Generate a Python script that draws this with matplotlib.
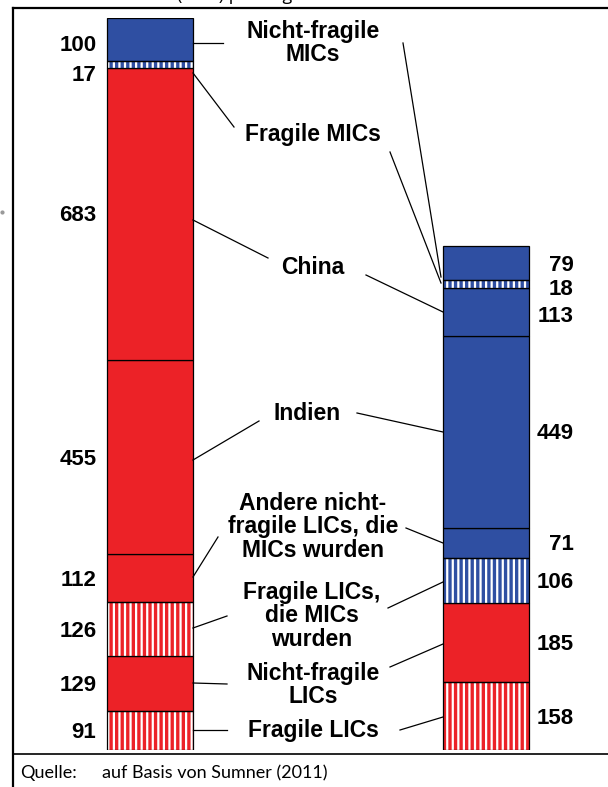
import matplotlib
matplotlib.use("Agg")
import matplotlib.pyplot as plt

# ---------------- data (segments listed bottom-up) ----------------
segment_labels = ["Fragile LICs", "Nicht-fragile\nLICs", "Fragile LICs,\ndie MICs\nwurden",
                  "Andere nicht-\nfragile LICs, die\nMICs wurden", "Indien", "China",
                  "Fragile MICs", "Nicht-fragile\nMICs"]
left_values = [91, 129, 126, 112, 455, 683, 17, 100]
right_values = [158, 185, 106, 71, 449, 113, 18, 79]
left_colors = ["red", "red", "red", "red", "red", "red", "blue", "blue"]
right_colors = ["red", "red", "blue", "blue", "blue", "blue", "blue", "blue"]
hatched = [True, False, True, False, False, False, True, False]
source_label = "Quelle:"
source_text = "auf Basis von Sumner (2011)"

PALETTE = {"red": "#EC2227", "blue": "#2F4FA2"}
FONT = "Liberation Sans"

W, H = 608, 787
fig = plt.figure(figsize=(W / 100, H / 100), dpi=100)
fig.patch.set_facecolor("white")
plt.rcParams["hatch.linewidth"] = 1.6

# bar axes: value 0 at pixel y=750, left-bar total at pixel y=18
total_left = sum(left_values)
ax = fig.add_axes([0, (H - 750) / H, 1, (750 - 18) / H])
px_per_x = 336.0
ax.set_xlim(-149.5 / px_per_x, (W - 149.5) / px_per_x)
ax.set_ylim(0, total_left)
ax.axis("off")
bar_w = 86 / px_per_x

def draw_bar(xpos, values, colors):
    bottom = 0
    for v, c, h in zip(values, colors, hatched):
        if h:
            ax.bar(xpos, v, bottom=bottom, width=bar_w, color=PALETTE[c],
                   edgecolor="white", hatch="|||", linewidth=0, zorder=2)
            ax.bar(xpos, v, bottom=bottom, width=bar_w, fill=False,
                   edgecolor="black", linewidth=0.9, zorder=3)
        else:
            ax.bar(xpos, v, bottom=bottom, width=bar_w, color=PALETTE[c],
                   edgecolor="black", linewidth=0.9, zorder=2)
        bottom += v

draw_bar(0, left_values, left_colors)
draw_bar(1, right_values, right_colors)

# value labels
num_kw = dict(fontsize=16, fontweight="bold", family=FONT, textcoords="offset pixels")
left_dy = {6: -9, 7: -4}
right_dy = {6: -4, 5: -3}
b = 0
for i, v in enumerate(left_values):
    ax.annotate(str(v), xy=(-bar_w / 2, b + v / 2), xytext=(-10, -2 + left_dy.get(i, 0)),
                ha="right", va="center", **num_kw)
    b += v
b = 0
for i, v in enumerate(right_values):
    ax.annotate(str(v), xy=(1 + bar_w / 2, b + v / 2), xytext=(45, -2 + right_dy.get(i, 0)),
                ha="right", va="center", **num_kw)
    b += v

# overlay axes in pixel coordinates for frame, labels and leader lines
ov = fig.add_axes([0, 0, 1, 1], zorder=5)
ov.set_xlim(0, W)
ov.set_ylim(H, 0)
ov.axis("off")
ov.patch.set_alpha(0)

# frame lines
ov.plot([12.5, 12.5], [7.5, H], color="black", lw=1.6)
ov.plot([12.5, W], [7.5, 7.5], color="black", lw=1.6)
ov.plot([12.5, W], [754, 754], color="black", lw=1.2)
ov.plot([2], [212], marker="o", ms=2, color="#999999")

# clipped title remnant at very top (only its descenders show, as in the source)
ov.text(116, -14, "Anzahl (Mio.) pro Tag", fontsize=13, family="Open Sans",
        ha="left", va="top", clip_on=False)

# segment labels
label_pos = {
    "Nicht-fragile\nMICs": (313, 43),
    "Fragile MICs": (313, 135),
    "China": (313, 268),
    "Indien": (307, 414),
    "Andere nicht-\nfragile LICs, die\nMICs wurden": (313, 527),
    "Fragile LICs,\ndie MICs\nwurden": (312, 616),
    "Nicht-fragile\nLICs": (313, 685),
    "Fragile LICs": (313, 730),
}
for lab in segment_labels:
    x, y = label_pos[lab]
    ov.text(x, y, lab, ha="center", va="center", fontsize=16.5, fontweight="bold",
            family=FONT, linespacing=1.05)

# leader lines
leaders = [
    ((193, 43), (223, 43)), ((403, 43), (441, 277)),
    ((193, 73), (234, 127)), ((390, 152), (441, 283)),
    ((193, 220), (268, 258)), ((366, 275), (443, 312)),
    ((193, 460), (259, 421)), ((357, 413), (443, 432)),
    ((193, 577), (218, 537)), ((406, 528), (443, 543)),
    ((193, 628), (227, 616)), ((388, 608), (443, 582)),
    ((193, 683), (227, 684)), ((390, 667), (443, 644)),
    ((193, 730), (227, 730)), ((400, 730), (443, 717)),
]
for (x0, y0), (x1, y1) in leaders:
    ov.plot([x0, x1], [y0, y1], color="black", lw=0.9)

# source line
ov.text(20, 773, source_label, fontsize=13, family="Lato", ha="left", va="center")
ov.text(102, 773, source_text, fontsize=13, family="Lato", ha="left", va="center")

fig.savefig("out.png", dpi=100, facecolor="white")
